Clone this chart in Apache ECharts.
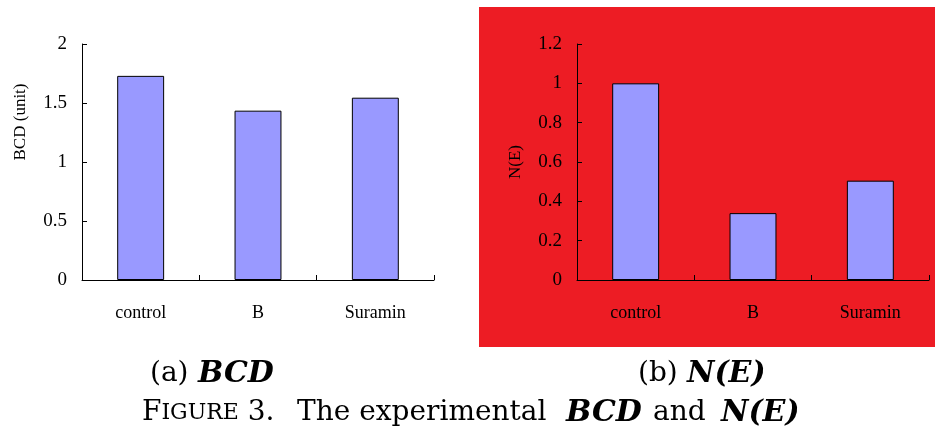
<!DOCTYPE html>
<html>
<head>
<meta charset="utf-8">
<script src="https://cdn.jsdelivr.net/npm/echarts@6/dist/echarts.min.js"></script>
<style>
html,body{margin:0;padding:0;background:#fff;}
#main{width:935px;height:432px;}
</style>
</head>
<body>
<div id="main"></div>
<script>
// 数据
var categories = ['control', 'B', 'Suramin'];
var bcdValues = [1.73, 1.435, 1.545];
var neValues = [1.0, 0.34, 0.505];

var barColor = '#9999ff';
var tickFont = 'Liberation Serif';
var capFont = 'DejaVu Serif';

function makeXAxis(gridIndex){
	return {
		type: 'category',
		gridIndex: gridIndex,
		data: categories,
		axisLine: { lineStyle: { color: '#000', width: 1 } },
		axisTick: { show: true, inside: true, length: 5, lineStyle: { color: '#000' } },
		axisLabel: { color: '#000', fontFamily: tickFont, fontSize: 18, margin: 24 }
	};
}

function makeYAxis(gridIndex, max, interval, name, namePadding){
	return {
		type: 'value',
		gridIndex: gridIndex,
		min: 0,
		max: max,
		interval: interval,
		name: name,
		nameLocation: 'middle',
		nameGap: 53,
		nameTextStyle: { color: '#000', fontFamily: tickFont, fontSize: 17, padding: namePadding },
		axisLine: { show: true, lineStyle: { color: '#000', width: 1 } },
		axisTick: { show: true, inside: true, length: 5, lineStyle: { color: '#000' } },
		axisLabel: { color: '#000', fontFamily: tickFont, fontSize: 19, margin: 15 },
		splitLine: { show: false }
	};
}

function makeBar(idx, data){
	return {
		type: 'bar',
		xAxisIndex: idx,
		yAxisIndex: idx,
		data: data,
		barWidth: '40%',
		itemStyle: { color: barColor, borderColor: '#000', borderWidth: 1 }
	};
}

// 标题文字
function capText(left, top, text, bold){
	return {
		type: 'text', left: left, top: bold ? top - 1 : top,
		style: {
			text: text,
			fontFamily: capFont,
			fontSize: bold ? 30 : 28,
			fontStyle: bold ? 'italic' : 'normal',
			fontWeight: bold ? 'bold' : 'normal',
			fill: '#000'
		}
	};
}

var myCharts = echarts.init(document.getElementById('main'));
var option = {
	animation: false,
	backgroundColor: '#fff',
	graphic: [
		{ type: 'rect', z: -10, shape: { x: 479, y: 7, width: 456, height: 340 }, style: { fill: '#ed1c24' } },
		capText(150, 360, '(a)', false),
		capText(198, 360, 'BCD', true),
		capText(638, 360, '(b)', false),
		capText(687, 360, 'N(E)', true),
		{ type: 'text', left: 142, top: 399, style: { rich: {
			n: { fontFamily: capFont, fontSize: 28, fill: '#000' },
			s: { fontFamily: capFont, fontSize: 22, fill: '#000' }
		}, text: '{n|F}{s|IGURE}{n| 3.}' } },
		capText(297, 399, 'The experimental', false),
		capText(566, 399, 'BCD', true),
		capText(653, 399, 'and', false),
		capText(721, 399, 'N(E)', true)
	],
	grid: [
		{ left: 82, top: 44, width: 352, height: 236 },
		{ left: 577, top: 44, width: 352, height: 236 }
	],
	xAxis: [makeXAxis(0), makeXAxis(1)],
	yAxis: [
		makeYAxis(0, 2, 0.5, 'BCD (unit)', [0, 0, 0, 80]),
		makeYAxis(1, 1.2, 0.2, 'N(E)', 0)
	],
	series: [makeBar(0, bcdValues), makeBar(1, neValues)]
};
myCharts.setOption(option);
</script>
</body>
</html>
